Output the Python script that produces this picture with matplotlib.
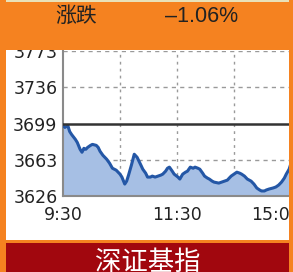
import matplotlib
matplotlib.use("Agg")
import numpy as np
import matplotlib.pyplot as plt
from matplotlib.patches import Rectangle
from matplotlib.transforms import ScaledTranslation

# minutes after 9:30 (trading time, lunch break removed) and index level
minutes = [0, 2, 5, 7, 9, 13, 15, 18, 20, 22, 24, 26, 29, 31, 35, 37, 39, 42, 46, 49,
           52, 56, 58, 60, 62, 65, 67, 69, 72, 75, 78, 80, 82, 84, 87, 89, 92, 94, 97,
           100, 103, 105, 108, 110, 112, 115, 117, 121, 123, 126, 129, 131, 134, 137,
           139, 142, 144, 147, 149, 152, 154, 157, 159, 164, 167, 170, 173, 175, 177,
           180, 183, 186, 188, 191, 194, 198, 201, 204, 207, 209, 212, 214, 217, 221,
           224, 227, 230, 233, 235, 238, 240]
level = [3697.4, 3695.4, 3697.4, 3691.3, 3688.3, 3683.3, 3680.2, 3673.2, 3670.2, 3674.2,
         3673.2, 3675.2, 3677.2, 3678.2, 3677.2, 3675.2, 3671.2, 3667.1, 3663.1, 3659.1,
         3654.0, 3652.0, 3650.0, 3648.0, 3645.0, 3637.9, 3640.9, 3647.0, 3657.1, 3668.2,
         3665.1, 3661.1, 3657.1, 3653.0, 3649.0, 3645.0, 3645.0, 3646.0, 3645.0, 3646.0,
         3647.0, 3648.0, 3651.0, 3654.0, 3655.1, 3651.0, 3648.0, 3645.0, 3643.0, 3648.0,
         3650.0, 3651.0, 3655.1, 3654.0, 3655.1, 3654.0, 3653.0, 3649.0, 3646.0, 3644.0,
         3643.0, 3640.9, 3639.9, 3638.9, 3639.9, 3640.9, 3641.9, 3644.0, 3646.0, 3648.0,
         3650.0, 3649.0, 3648.0, 3646.0, 3643.0, 3640.9, 3637.9, 3633.9, 3631.9, 3630.9,
         3630.9, 3631.9, 3632.9, 3633.9, 3634.9, 3636.9, 3639.9, 3644.0, 3648.0, 3653.0,
         3659.1]

prev_close = 3699.4
ytick_vals = [3625.8, 3662.6, 3699.4, 3736.2, 3773.0]
ytick_labels = ["3626", "3663", "3699", "3736", "3773"]
xtick_vals = [0, 120, 240]
xtick_labels = ["9:30", "11:30", "15:00"]
xgrid_vals = [60, 120, 180]

ORANGE = "#F58220"
W, H = 293, 272

fig = plt.figure(figsize=(W / 100, H / 100), dpi=100, facecolor=ORANGE)

def px(x0, y0, x1, y1):
    # pixel box (top-left origin) -> figure rect
    return (x0 / W, 1 - y1 / H, (x1 - x0) / W, (y1 - y0) / H)

def box(x0, y0, x1, y1, color, z):
    r = px(x0, y0, x1, y1)
    fig.patches.append(Rectangle(r[:2], *r[2:], transform=fig.transFigure,
                                 facecolor=color, edgecolor="none", zorder=z))

# white panel behind the chart
box(6, 50, 289, 240, "white", -1)

ax = fig.add_axes(px(63, 51, 291, 196))
ax.set_facecolor("none")
ax.fill_between(minutes, level, ytick_vals[0], color="#A6BFE4", zorder=2)
ax.plot(minutes, level, color="#2457A6", lw=2.2, zorder=3)
ax.axhline(prev_close, color="#333333", lw=1.8, zorder=4)
for v in [ytick_vals[1], ytick_vals[3], ytick_vals[4]]:
    ax.axhline(v, color="#9A9A9A", lw=1, ls=(0, (3, 3)), zorder=1)
for v in xgrid_vals:
    ax.axvline(v, color="#9A9A9A", lw=1, ls=(0, (2, 3)), zorder=1)

ax.set_xlim(0, 240)
ax.set_ylim(ytick_vals[0], ytick_vals[-1])
ax.set_yticks(ytick_vals, ytick_labels)
ax.set_xticks(xtick_vals, xtick_labels)
ax.tick_params(length=0, labelsize=12.5, colors="#222222")
ax.tick_params(axis="y", pad=4)
ax.tick_params(axis="x", pad=7)
for s in ["top", "right"]:
    ax.spines[s].set_visible(False)
for s in ["left", "bottom"]:
    ax.spines[s].set_color("#8A8A8A")
    ax.spines[s].set_linewidth(1.5)
last = ax.get_xticklabels()[-1]
last.set_transform(last.get_transform() + ScaledTranslation(-0.15, 0, fig.dpi_scale_trans))

# orange frame pieces drawn over the chart (clip)
box(0, 0, 293, 50, ORANGE, 10)
box(289, 0, 293, 272, ORANGE, 10)
box(0, 240, 293, 243, ORANGE, 10)
box(6, 0, 289, 2, "#E9E1B8", 11)

# red banner
box(6, 243, 289, 272, "#A1070E", 11)
fig.text(148 / W, 1 - 262 / H, "深证基指", color="white", fontsize=19,
         ha="center", va="center", family=["Noto Sans CJK SC", "DejaVu Sans"], zorder=12)

# header
fig.text(76 / W, 1 - 16 / H, "涨跌", color="#222222", fontsize=15,
         ha="center", va="center", family=["Noto Sans CJK SC", "DejaVu Sans"], zorder=12)
fig.text(202 / W, 1 - 16 / H, "\u20131.06%", color="#222222", fontsize=15.5,
         ha="center", va="center", family=["Liberation Sans", "DejaVu Sans"], zorder=12)

fig.savefig("out.png", dpi=100, facecolor=ORANGE)
